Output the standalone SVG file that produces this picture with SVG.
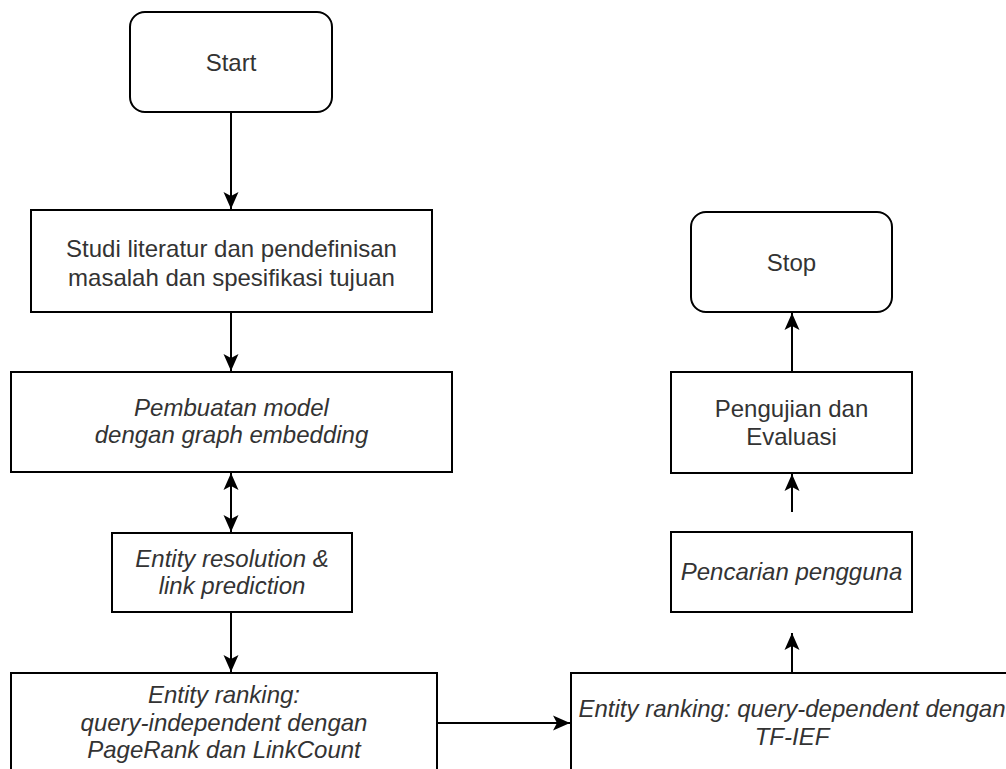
<svg xmlns="http://www.w3.org/2000/svg" width="1006" height="769" viewBox="0 0 1006 769">
  <defs>
    <style>
      .box { fill: #ffffff; stroke: #000000; stroke-width: 2; }
      .lbl { font-family: "Liberation Sans", Arial, sans-serif; font-size: 24px; fill: #333333; text-anchor: middle; }
      .it { font-style: italic; }
      .edge { fill: none; stroke: #000000; stroke-width: 2; }
    </style>
    <marker id="arrow" markerUnits="userSpaceOnUse" markerWidth="18" markerHeight="18" viewBox="0 0 18 18" refX="17" refY="9" orient="auto-start-reverse">
      <path d="M0,1.5 L17,9 L0,16.5 L4,9 Z" fill="#000000"/>
    </marker>
  </defs>

  <rect width="1006" height="769" fill="#ffffff"/>

  <!-- process boxes -->
  <g id="start">
    <rect class="box" x="130" y="12" width="202" height="100" rx="15"/>
    <text class="lbl" x="231" y="71">Start</text>
  </g>
  <g id="studi">
    <rect class="box" x="31" y="210" width="401" height="102"/>
    <text class="lbl" x="231.5" y="257">Studi literatur dan pendefinisan</text>
    <text class="lbl" x="231.5" y="286">masalah dan spesifikasi tujuan</text>
  </g>
  <g id="pembuatan">
    <rect class="box" x="11" y="372" width="441" height="100"/>
    <text class="lbl it" x="231.5" y="416">Pembuatan model</text>
    <text class="lbl it" x="231.5" y="443">dengan graph embedding</text>
  </g>
  <g id="resolution">
    <rect class="box" x="112" y="533" width="240" height="79"/>
    <text class="lbl it" x="232" y="567">Entity resolution &amp;</text>
    <text class="lbl it" x="232" y="594">link prediction</text>
  </g>
  <g id="ranking-independent">
    <rect class="box" x="11" y="673" width="426" height="106"/>
    <text class="lbl it" x="224" y="703">Entity ranking:</text>
    <text class="lbl it" x="224" y="731">query-independent dengan</text>
    <text class="lbl it" x="224" y="758">PageRank dan LinkCount</text>
  </g>
  <g id="ranking-dependent">
    <rect class="box" x="571" y="673" width="442" height="106"/>
    <text class="lbl it" x="792" y="717">Entity ranking: query-dependent dengan</text>
    <text class="lbl it" x="792" y="745">TF-IEF</text>
  </g>
  <g id="pencarian">
    <rect class="box" x="671" y="532" width="241" height="80"/>
    <text class="lbl it" x="791.5" y="580">Pencarian pengguna</text>
  </g>
  <g id="pengujian">
    <rect class="box" x="671" y="372" width="241" height="101"/>
    <text class="lbl" x="791.5" y="417">Pengujian dan</text>
    <text class="lbl" x="791.5" y="445">Evaluasi</text>
  </g>
  <g id="stop">
    <rect class="box" x="691" y="212" width="201" height="100" rx="15"/>
    <text class="lbl" x="791.5" y="271">Stop</text>
  </g>

  <!-- connectors -->
  <g id="connectors">
    <path class="edge" d="M231,112 L231,209" marker-end="url(#arrow)"/>
    <path class="edge" d="M231,312 L231,371" marker-end="url(#arrow)"/>
    <path class="edge" d="M231,473 L231,532" marker-start="url(#arrow)" marker-end="url(#arrow)"/>
    <path class="edge" d="M231,612 L231,672" marker-end="url(#arrow)"/>
    <path class="edge" d="M437,723 L570,723" marker-end="url(#arrow)"/>
    <path class="edge" d="M792,673 L792,633" marker-end="url(#arrow)"/>
    <path class="edge" d="M792,512 L792,474" marker-end="url(#arrow)"/>
    <path class="edge" d="M792,372 L792,313" marker-end="url(#arrow)"/>
  </g>
</svg>
